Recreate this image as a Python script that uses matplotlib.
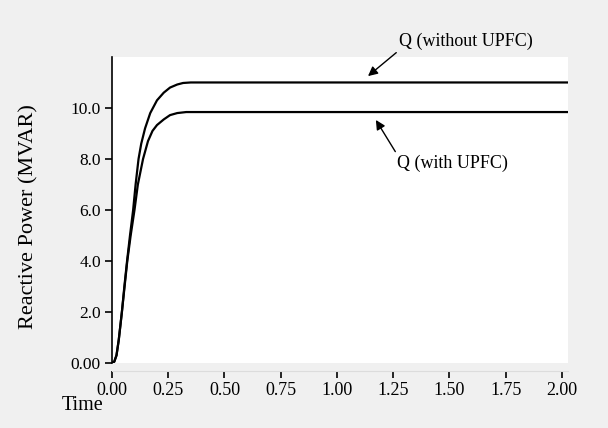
import numpy as np
import matplotlib.pyplot as plt

plt.rcParams['font.family'] = ['Liberation Serif', 'DejaVu Serif']

# values
t_without = [0.0, 0.01, 0.02, 0.03, 0.044, 0.055, 0.067, 0.08, 0.094, 0.105, 0.118,
             0.13, 0.147, 0.17, 0.2, 0.23, 0.258, 0.29, 0.316, 0.35, 2.027]
q_without = [0.0, 0.05, 0.3, 0.9, 2.0, 3.0, 4.0, 5.0, 6.0, 7.0, 8.0,
             8.6, 9.2, 9.8, 10.3, 10.6, 10.8, 10.92, 10.98, 11.0, 11.0]

t_with = [0.0, 0.01, 0.02, 0.03, 0.044, 0.056, 0.068, 0.083, 0.1, 0.115, 0.138,
          0.16, 0.18, 0.2, 0.23, 0.258, 0.29, 0.33, 2.027]
q_with = [0.0, 0.05, 0.3, 0.9, 2.0, 3.0, 4.0, 5.0, 6.0, 7.0, 8.0,
          8.7, 9.1, 9.33, 9.55, 9.72, 9.8, 9.84, 9.84]

xticks = [0.0, 0.25, 0.5, 0.75, 1.0, 1.25, 1.5, 1.75, 2.0]
xlabels = ['0.00', '0.25', '0.50', '0.75', '1.00', '1.25', '1.50', '1.75', '2.00']
yticks = [0, 2, 4, 6, 8, 10]
ylabels = ['0.00', '2.0', '4.0', '6.0', '8.0', '10.0']

bg = '#f0f0f0'
fig = plt.figure(figsize=(6.08, 4.28), dpi=100, facecolor=bg)
ax = fig.add_axes([0.1842, 0.1519, 0.75, 0.715])
ax.set_facecolor('white')

ax.plot(t_without, q_without, color='black', lw=1.6)
ax.plot(t_with, q_with, color='black', lw=1.6)

ax.set_xlim(0, 2.027)
ax.set_ylim(0, 12)

ax.set_xticks(xticks)
ax.set_xticklabels(xlabels)
ax.set_yticks(yticks)
ax.set_yticklabels(ylabels)

ax.spines['top'].set_visible(False)
ax.spines['right'].set_visible(False)
ax.spines['left'].set_linewidth(1.2)
ax.spines['bottom'].set_position(('outward', 6))
ax.spines['bottom'].set_color('#dcdcdc')
ax.spines['bottom'].set_linewidth(0.8)

ax.tick_params(axis='y', length=5, width=1.2, pad=3, labelsize=12.5)
ax.tick_params(axis='x', length=5, width=1.2, pad=3, color='black', labelsize=13)

ax.set_ylabel('Reactive Power (MVAR)', fontsize=16)
ax.yaxis.set_label_coords(-0.162, 0.48)

fig.text(83 / 608, 1 - 405 / 428, 'Time', fontsize=14.5, ha='center', va='center')

arrow = dict(arrowstyle='-|>', color='black', lw=1.0, mutation_scale=14,
             shrinkA=0, shrinkB=0)
ax.annotate('Q (without UPFC)', xy=(1.138, 11.25), xytext=(1.276, 12.6),
            fontsize=13, ha='left', va='center', annotation_clip=False,
            arrowprops=dict(arrow, relpos=(0, 0)))
ax.annotate('Q (with UPFC)', xy=(1.173, 9.53), xytext=(1.267, 7.84),
            fontsize=13, ha='left', va='center',
            arrowprops=dict(arrow, relpos=(0, 1)))

fig.savefig('out.png', dpi=100, facecolor=bg)
